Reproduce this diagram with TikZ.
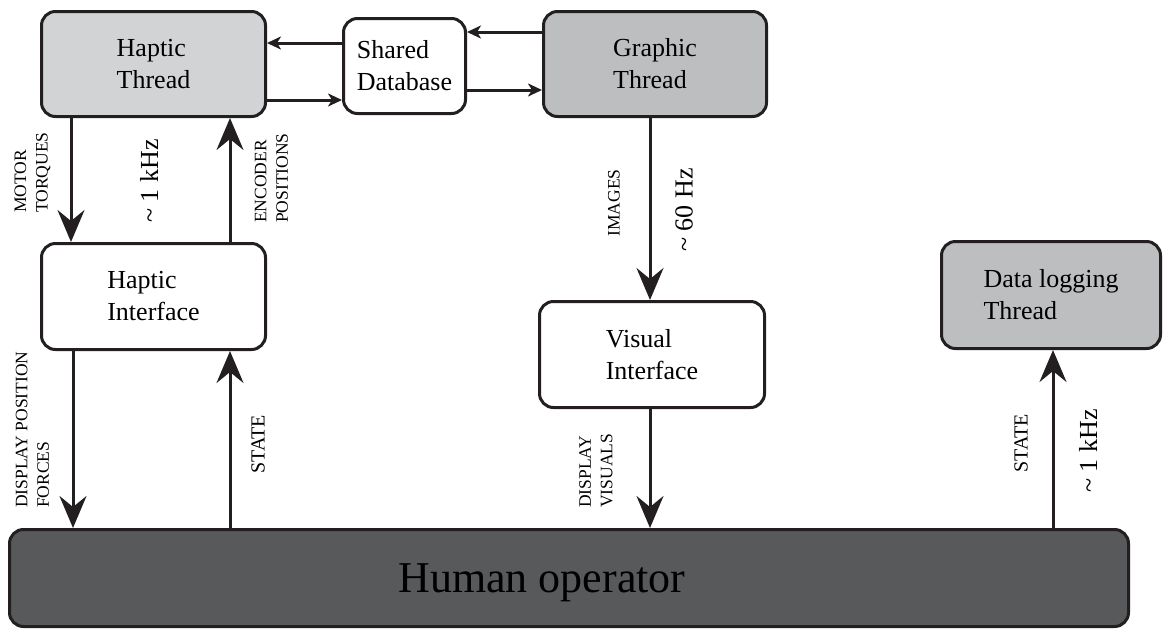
\documentclass[tikz,border=0pt]{standalone}
\usepackage{fontspec}
\setmainfont{Liberation Serif}
\usetikzlibrary{arrows.meta,calc}
\definecolor{edge}{HTML}{231F20}
\definecolor{lightg}{HTML}{D1D3D4}
\definecolor{midg}{HTML}{BCBEC0}
\definecolor{darkg}{HTML}{58595B}
\tikzset{
 box/.style={draw=edge, line width=3pt, rounded corners=14pt, inner sep=0pt, align=left, font=\fontsize{26}{32}\selectfont},
 bigarrow/.style={draw=edge, line width=3pt, -{Stealth[length=32pt,width=27pt,inset=11pt]}},
 smallarrow/.style={draw=edge, line width=3pt, -{Stealth[length=14pt,width=13pt,inset=4pt]}},
 lab/.style={rotate=90, inner sep=0pt, align=left, font=\fontsize{17.5}{21.5}\selectfont},
 statelab/.style={rotate=90, inner sep=0pt, font=\fontsize{20}{24}\selectfont},
 freq/.style={rotate=90, inner sep=0pt, font=\fontsize{26}{30}\selectfont},
}
\begin{document}
\begin{tikzpicture}[x=1pt,y=-1pt]
\useasboundingbox (0,0) rectangle (1164,630);
% boxes
\node[box, fill=lightg, minimum width=224pt, minimum height=105pt] (ht) at (153.5,64) {Haptic\\Thread};
\node[box, fill=white, minimum width=122pt, minimum height=95pt] (sd) at (404.5,66) {Shared\\Database};
\node[box, fill=midg, minimum width=223pt, minimum height=105pt] (gt) at (655,64) {Graphic\\Thread};
\node[box, fill=white, minimum width=224pt, minimum height=106pt] (hi) at (153.5,296.5) {Haptic\\Interface};
\node[box, fill=white, minimum width=225pt, minimum height=106pt] (vi) at (652,354.5) {Visual\\Interface};
\node[box, fill=midg, minimum width=219pt, minimum height=107pt] (dl) at (1051,295) {Data logging\\Thread};
\node[box, fill=darkg, minimum width=1119pt, minimum height=97pt] (ho) at (569,578) {};
\node[inner sep=0pt, font=\fontsize{44}{50}\selectfont] (hotext) at (542,583) {Human operator};
% columns and rows
\coordinate (c71) at (71,0);
\coordinate (c73) at (73,0);
\coordinate (c230) at (230,0);
\coordinate (c650) at (650,0);
\coordinate (c1053) at (1053,0);
\coordinate (r32) at (0,32);
\coordinate (r43) at (0,43);
\coordinate (r90) at (0,90);
\coordinate (r100) at (0,100);
% vertical arrows
\draw[bigarrow] (ht.south -| c71) -- (hi.north -| c71);
\draw[bigarrow] (hi.north -| c230) -- (ht.south -| c230);
\draw[bigarrow] (hi.south -| c73) -- (ho.north -| c73);
\draw[bigarrow] (ho.north -| c230) -- (hi.south -| c230);
\draw[bigarrow] (gt.south -| c650) -- (vi.north -| c650);
\draw[bigarrow] (vi.south -| c650) -- (ho.north -| c650);
\draw[bigarrow] (ho.north -| c1053) -- (dl.south -| c1053);
% horizontal arrows
\draw[smallarrow] (sd.west |- r43) -- (ht.east |- r43);
\draw[smallarrow] (ht.east |- r100) -- (sd.west |- r100);
\draw[smallarrow] (gt.west |- r32) -- (sd.east |- r32);
\draw[smallarrow] (sd.east |- r90) -- (gt.west |- r90);
% labels
\node[lab, anchor=west] (lmotor) at (32.5,213) {MOTOR\\TORQUES};
\node[freq] (lf1) at (149,181) {\textasciitilde\ 1 kHz};
\node[lab, anchor=west] (lenc) at (271.5,223) {ENCODER\\POSITIONS};
\node[lab, anchor=west] (ldisp) at (32.5,508) {DISPLAY POSITION\\FORCES};
\node[statelab] (lstate1) at (258,444) {STATE};
\node[lab] (limg) at (614,203) {IMAGES};
\node[freq] (lf2) at (684,210) {\textasciitilde\ 60 Hz};
\node[lab, anchor=west] (lvis) at (596,508) {DISPLAY\\VISUALS};
\node[statelab] (lstate2) at (1021,443) {STATE};
\node[freq] (lf3) at (1088,451) {\textasciitilde\ 1 kHz};
\end{tikzpicture}
\end{document}
